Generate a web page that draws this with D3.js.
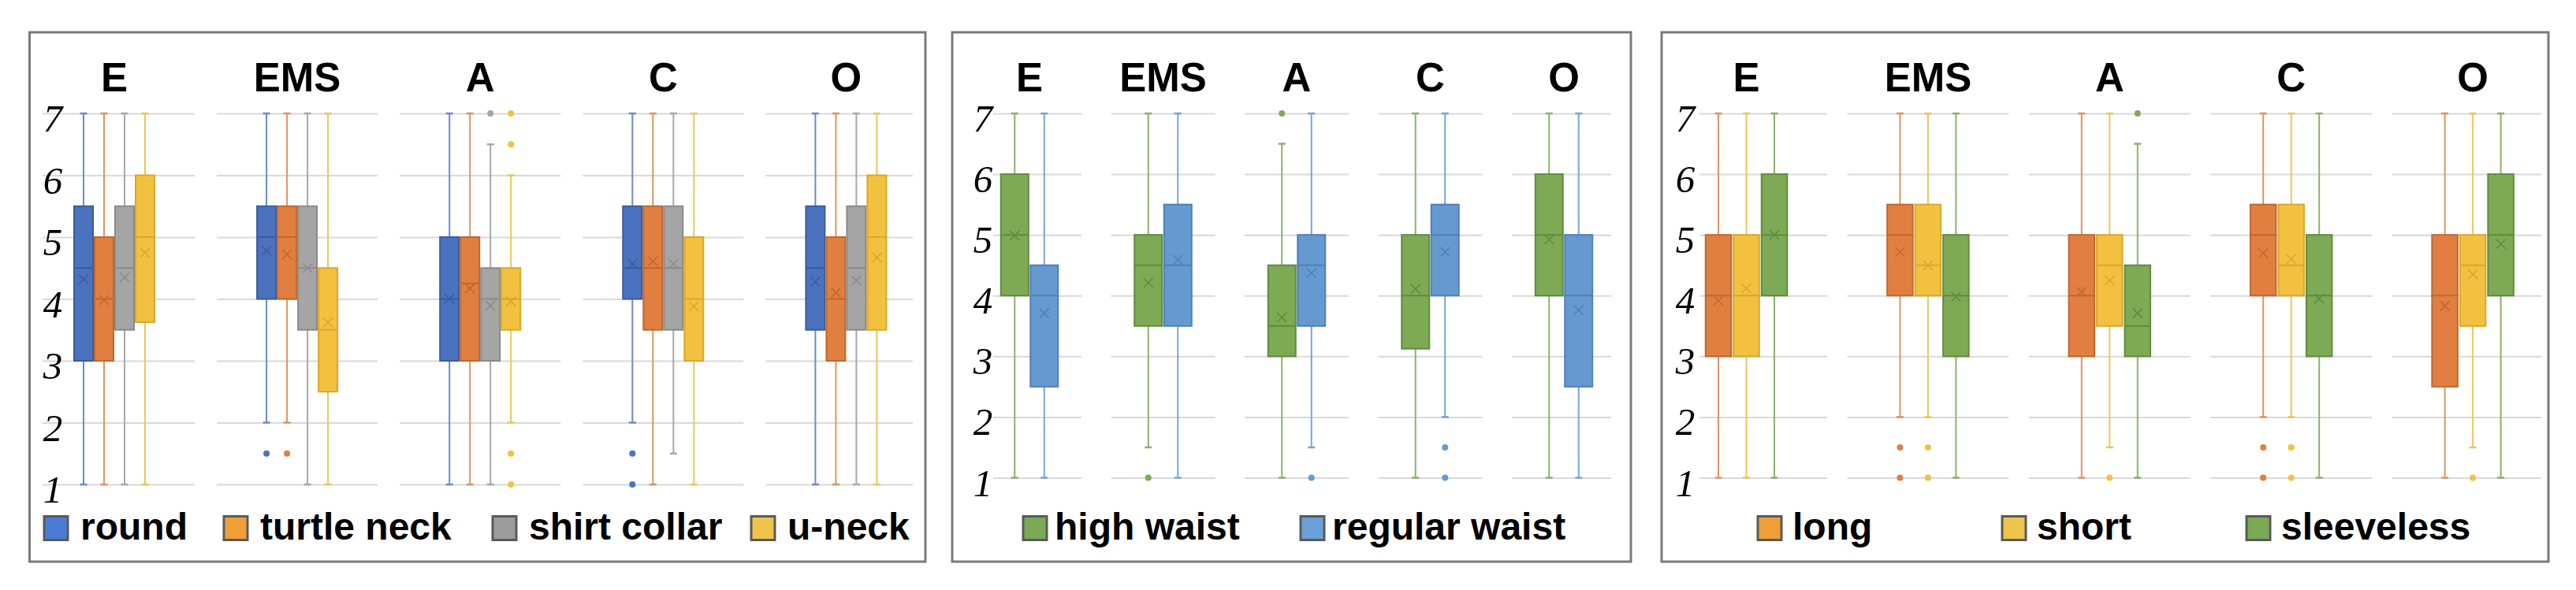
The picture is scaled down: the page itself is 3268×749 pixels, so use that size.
<!DOCTYPE html>
<html><head><meta charset="utf-8">
<script src="https://cdn.jsdelivr.net/npm/d3@7/dist/d3.min.js"></script>
<style>body{margin:0;background:#fff}</style>
</head><body>
<svg id="chart" width="3268" height="749" xmlns="http://www.w3.org/2000/svg"></svg>
<script>
// ---------- DATA ----------
const traits = ["E", "EMS", "A", "C", "O"];
const yTicks = [1, 2, 3, 4, 5, 6, 7];
// each row: [whiskerLow, q1, median, q3, whiskerHigh, mean] for E, EMS, A, C, O

// Panel 1 – neckline
const neckSeries = ["round", "turtle neck", "shirt collar", "u-neck"];
const round = [[1,3,4.5,5.5,7,4.32],[2,4,5,5.5,7,4.78],[1,3,4,5,7,4.0],[2,4,4.5,5.5,7,4.57],[1,3.5,4.5,5.5,7,4.28]];
const roundOut = [[],[1.5],[],[1.5,1],[]];
const turtleNeck = [[1,3,4,5,7,3.98],[2,4,5,5.5,7,4.72],[1,3,4.25,5,7,4.17],[1,3.5,4.5,5.5,7,4.61],[1,3,4,5,7,4.1]];
const turtleNeckOut = [[],[1.5],[],[],[]];
const shirtCollar = [[1,3.5,4.5,5.5,7,4.35],[1,3.5,4.5,5.5,7,4.5],[1,3,4,4.5,6.5,3.89],[1.5,3.5,4.5,5.5,7,4.57],[1,3.5,4.5,5.5,7,4.3]];
const shirtCollarOut = [[],[],[7],[],[]];
const uNeck = [[1,3.625,5,6,7,4.75],[1,2.5,3.5,4.5,7,3.62],[2,3.5,4,4.5,6,3.96],[1,3,4,5,7,3.88],[1,3.5,5,6,7,4.67]];
const uNeckOut = [[],[],[7,6.5,1.5,1],[],[]];

// Panel 2 – waist
const waistSeries = ["high waist", "regular waist"];
const highWaist = [[1,4,5,6,7,4.99],[1.5,3.5,4.5,5,7,4.21],[1,3,3.5,4.5,6.5,3.64],[1,3.125,4,5,7,4.11],[1,4,5,6,7,4.92]];
const highWaistOut = [[],[1],[7],[],[]];
const regularWaist = [[1,2.5,4,4.5,7,3.71],[1,3.5,4.5,5.5,7,4.59],[1.5,3.5,4.5,5,7,4.37],[2,4,5,5.5,7,4.72],[1,2.5,4,5,7,3.76]];
const regularWaistOut = [[],[],[1],[1.5,1],[]];

// Panel 3 – sleeve
const sleeveSeries = ["long", "short", "sleeveless"];
const longSleeve = [[1,3,4,5,7,3.92],[2,4,5,5.5,7,4.72],[1,3,4,5,7,4.06],[2,4,5,5.5,7,4.70],[1,2.5,4,5,7,3.83]];
const longSleeveOut = [[],[1.5,1],[],[1.5,1],[]];
const shortSleeve = [[1,3,4,5,7,4.12],[2,4,4.5,5.5,7,4.5],[1.5,3.5,4.5,5,7,4.25],[2,4,4.5,5.5,7,4.6],[1.5,3.5,4.5,5,7,4.35]];
const shortSleeveOut = [[],[1.5,1],[1],[1.5,1],[1]];
const sleeveless = [[1,4,5,6,7,5.0],[1,3,4,5,7,3.98],[1,3,3.5,4.5,6.5,3.71],[1,3,4,5,7,3.95],[1,4,5,6,7,4.85]];
const sleevelessOut = [[],[],[7],[],[]];

// ---------- STYLE ----------
const palette = {
  blue:      {fill:"#4A72BF", stroke:"#3A5C9E", whisker:"#6A8CCB", legend:"#4A7BD5"},
  orange:    {fill:"#E07F40", stroke:"#C0672E", whisker:"#DE9460", legend:"#F09E38"},
  gray:      {fill:"#A5A5A5", stroke:"#8A8A8A", whisker:"#A8A8A8", legend:"#9C9C9C"},
  yellow:    {fill:"#F3C140", stroke:"#D9A72A", whisker:"#EDC65A", legend:"#F0C44C"},
  green:     {fill:"#7EAA55", stroke:"#5F8C3D", whisker:"#8DB06B", legend:"#7AAA55"},
  lightblue: {fill:"#6699CF", stroke:"#4F80B8", whisker:"#7BA3D4", legend:"#6BA0D8"}
};

const panels = [
  { series: neckSeries, stats: [round, turtleNeck, shirtCollar, uNeck],
    outliers: [roundOut, turtleNeckOut, shirtCollarOut, uNeckOut],
    colors: ["blue","orange","gray","yellow"],
    frame: [37.5, 41, 1174, 713], yRange: [615, 144],
    c0: 145, step: 232.1, gridHalf: 102, gridMin: 54, gridMax: 1158,
    boxW: 24, boxStep: 26, tickX: 67,
    legendX: [56, 284, 625, 953], legendGap: 15 },
  { series: waistSeries, stats: [highWaist, regularWaist],
    outliers: [highWaistOut, regularWaistOut],
    colors: ["green","lightblue"],
    frame: [1208, 41, 2069, 713], yRange: [606.5, 144],
    c0: 1306, step: 169.5, gridHalf: 66, gridMin: 1260, gridMax: 2044,
    boxW: 35, boxStep: 37.5, tickX: 1247,
    legendX: [1298, 1650], legendGap: 9 },
  { series: sleeveSeries, stats: [longSleeve, shortSleeve, sleeveless],
    outliers: [longSleeveOut, shortSleeveOut, sleevelessOut],
    colors: ["orange","yellow","green"],
    frame: [2108, 41, 3233, 713], yRange: [606.5, 144],
    c0: 2215.5, step: 230.4, gridHalf: 102.5, gridMin: 2156, gridMax: 3224,
    boxW: 32.5, boxStep: 35.5, tickX: 2138,
    legendX: [2230, 2540, 2850], legendGap: 13 }
];

const svg = d3.select("#chart");
svg.append("rect").attr("width", 3268).attr("height", 749).attr("fill", "#fff");

panels.forEach(p => {
  const g = svg.append("g");
  const [fx0, fy0, fx1, fy1] = p.frame;

  const y = d3.scaleLinear().domain([1, 7]).range(p.yRange);
  const x = d3.scaleBand().domain(traits)
    .range([p.c0 - p.step / 2, p.c0 - p.step / 2 + p.step * traits.length])
    .paddingInner(0).paddingOuter(0);
  const n = p.series.length;
  const xs = d3.scaleBand().domain(p.series)
    .range([-n * p.boxStep / 2, n * p.boxStep / 2])
    .paddingInner(1 - p.boxW / p.boxStep).paddingOuter((1 - p.boxW / p.boxStep) / 2);
  const center = t => x(t) + x.bandwidth() / 2;

  // gridlines per trait group (axis with long ticks)
  traits.forEach(t => {
    const gx0 = Math.max(p.gridMin, center(t) - p.gridHalf);
    const gx1 = Math.min(p.gridMax, center(t) + p.gridHalf);
    const ax = g.append("g").attr("transform", `translate(${gx0},0)`)
      .call(d3.axisLeft(y).tickValues(yTicks).tickSize(-(gx1 - gx0)).tickFormat(""));
    ax.select(".domain").remove();
    ax.selectAll(".tick line").attr("stroke", "#d9d9d9").attr("stroke-width", 2);
  });

  // y tick labels
  const ya = g.append("g").attr("transform", `translate(${p.tickX},0)`)
    .call(d3.axisLeft(y).tickValues(yTicks).tickSize(0).tickPadding(0).tickFormat(d3.format("d")));
  ya.attr("font-family", null).attr("font-size", null);
  ya.select(".domain").remove();
  ya.selectAll(".tick text")
    .attr("x", 0).attr("dy", "0.46em")
    .attr("text-anchor", "middle")
    .style("font-family", "'Liberation Serif', 'Times New Roman', serif")
    .style("font-style", "italic").style("font-size", "49px").attr("fill", "#000");

  // group titles
  g.selectAll("text.title").data(traits).join("text").attr("class", "title")
    .attr("x", d => center(d)).attr("y", 116).attr("text-anchor", "middle")
    .style("font-family", "'Liberation Sans', Arial, sans-serif").style("font-weight", "bold")
    .style("font-size", "51px").attr("fill", "#000").text(d => d);

  // boxes
  p.series.forEach((s, si) => {
    const col = palette[p.colors[si]];
    const rows = p.stats[si].map((r, ti) => ({
      t: traits[ti], lo: r[0], q1: r[1], med: r[2], q3: r[3], hi: r[4], mean: r[5],
      out: p.outliers[si][ti], cx: center(traits[ti]) + xs(s) + xs.bandwidth() / 2
    }));
    const sg = g.append("g");
    const bw = xs.bandwidth();
    const capW = 9;

    // whiskers
    sg.selectAll("line.wu").data(rows).join("line")
      .attr("x1", d => d.cx).attr("x2", d => d.cx)
      .attr("y1", d => y(d.hi)).attr("y2", d => y(d.q3))
      .attr("stroke", col.whisker).attr("stroke-width", 2);
    sg.selectAll("line.wl").data(rows).join("line")
      .attr("x1", d => d.cx).attr("x2", d => d.cx)
      .attr("y1", d => y(d.q1)).attr("y2", d => y(d.lo))
      .attr("stroke", col.whisker).attr("stroke-width", 2);
    ["hi", "lo"].forEach(k => {
      sg.append("g").selectAll("line").data(rows).join("line")
        .attr("x1", d => d.cx - capW / 2).attr("x2", d => d.cx + capW / 2)
        .attr("y1", d => y(d[k])).attr("y2", d => y(d[k]))
        .attr("stroke", col.whisker).attr("stroke-width", 2.5);
    });

    // box
    sg.append("g").selectAll("rect").data(rows).join("rect")
      .attr("x", d => d.cx - bw / 2).attr("width", bw)
      .attr("y", d => y(d.q3)).attr("height", d => y(d.q1) - y(d.q3))
      .attr("fill", col.fill).attr("stroke", col.stroke).attr("stroke-width", 2);

    // median
    sg.append("g").selectAll("line").data(rows).join("line")
      .attr("x1", d => d.cx - bw / 2).attr("x2", d => d.cx + bw / 2)
      .attr("y1", d => y(d.med)).attr("y2", d => y(d.med))
      .attr("stroke", col.stroke).attr("stroke-width", 2);

    // mean marker ×
    const m = 6;
    sg.append("g").selectAll("path").data(rows).join("path")
      .attr("d", d => {
        const cy = y(d.mean);
        return `M${d.cx - m},${cy - m}L${d.cx + m},${cy + m}M${d.cx - m},${cy + m}L${d.cx + m},${cy - m}`;
      })
      .attr("fill", "none").attr("stroke", col.stroke).attr("stroke-width", 1.5);

    // outliers
    const pts = rows.flatMap(d => d.out.map(v => ({cx: d.cx, v})));
    sg.append("g").selectAll("circle").data(pts).join("circle")
      .attr("cx", d => d.cx).attr("cy", d => y(d.v)).attr("r", 4)
      .attr("fill", col.fill);
  });

  // legend
  const lg = g.append("g");
  p.series.forEach((s, si) => {
    const col = palette[p.colors[si]];
    const lx = p.legendX[si];
    lg.append("rect").attr("x", lx).attr("y", 655.5).attr("width", 30).attr("height", 30)
      .attr("fill", col.legend).attr("stroke", "#5a5a5a").attr("stroke-width", 3);
    lg.append("text").attr("x", lx + 31 + p.legendGap).attr("y", 685)
      .style("font-family", "'Liberation Sans', Arial, sans-serif").style("font-weight", "bold")
      .style("font-size", "48px").attr("fill", "#000").text(s);
  });

  // frame
  g.append("rect").attr("x", fx0).attr("y", fy0).attr("width", fx1 - fx0).attr("height", fy1 - fy0)
    .attr("fill", "none").attr("stroke", "#7a7a7a").attr("stroke-width", 3);
});
</script>
</body></html>
